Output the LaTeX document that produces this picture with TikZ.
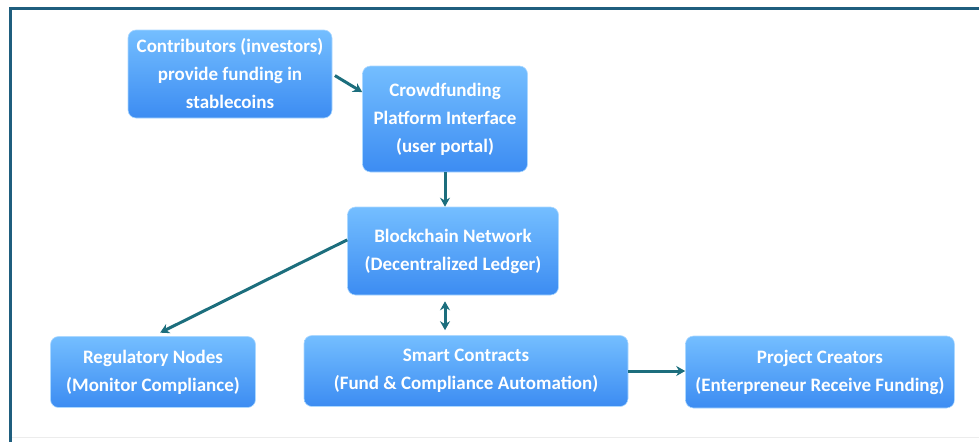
\documentclass[tikz,border=0pt]{standalone}
\usepackage{fontspec}
\setmainfont{Carlito}
\usepackage{tikz}
\usepackage{xcolor}
\usetikzlibrary{arrows.meta, positioning, calc}

\definecolor{boxtop}{HTML}{74BEFF}
\definecolor{boxbot}{HTML}{3C8CF2}
\definecolor{linkcol}{HTML}{1C6E7D}
\definecolor{framecol}{HTML}{1F5E7E}

\begin{document}
\begin{tikzpicture}[x=1pt, y=-1pt]
\tikzstyle{process} = [rectangle, rounded corners=8pt, align=center, text=white, font=\fontsize{19}{28}\selectfont\bfseries, top color=boxtop, bottom color=boxbot, draw=boxtop!60!white, line width=0.6pt, inner sep=0pt]
\tikzstyle{arrow} = [draw=linkcol, line width=3pt, -{Stealth[length=9pt, width=10pt]}]

\useasboundingbox (0,0) rectangle (979,442);
% frame
\draw[gray!15, line width=1pt] (12,437) -- (979,437);
\draw[framecol, line width=3pt] (979,8) -- (10.5,8) -- (10.5,442);

\node (p1) [process, minimum width=204pt, minimum height=88pt] at (230,74) {Contributors (investors)\\provide funding in\\stablecoins};
\node (p2) [process, minimum width=165pt, minimum height=106pt] at (445,119) {Crowdfunding\\Platform Interface\\(user portal)};
\node (p3) [process, minimum width=211pt, minimum height=88pt] at (453,251) {Blockchain Network\\(Decentralized Ledger)};
\node (p4) [process, minimum width=205pt, minimum height=71pt] at (153,372) {Regulatory Nodes\\(Monitor Compliance)};
\node (p5) [process, minimum width=324pt, minimum height=71pt] at (466,371) {Smart Contracts\\(Fund \& Compliance Automation)};
\node (p6) [process, minimum width=269pt, minimum height=72pt] at (820,372) {Project Creators\\(Enterpreneur Receive Funding)};

\draw [arrow, shorten <=3pt] (p1.east) -- (p2.162);
\draw [arrow] (p2.south) -- (p2.south |- p3.north);
\draw [arrow, shorten >=8pt] (p3.174) -- (p4.north);
\draw [arrow, {Stealth[length=9pt, width=10pt]}-{Stealth[length=9pt, width=10pt]}, shorten <=6pt, shorten >=5pt] ([xshift=-8pt]p3.south) -- ([xshift=-8pt]p3.south |- p5.north);
\draw [arrow] (p5.east) -- (p5.east -| p6.west);
\end{tikzpicture}
\end{document}
